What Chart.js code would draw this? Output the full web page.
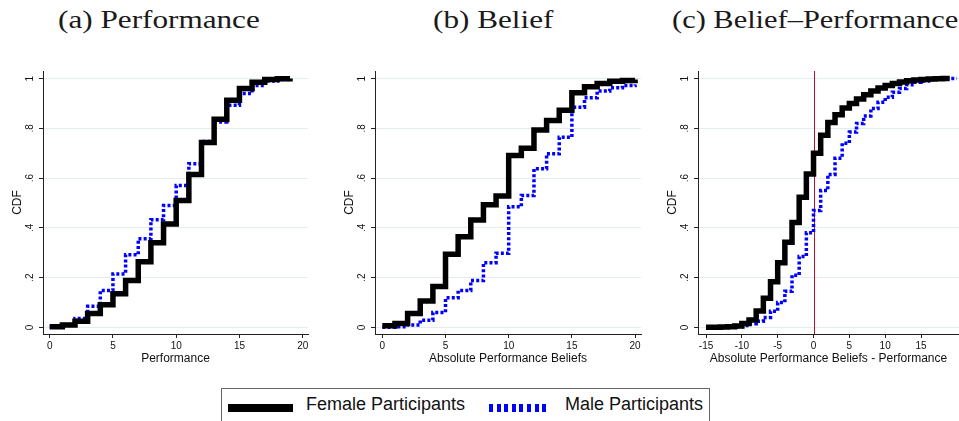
<!DOCTYPE html>
<html>
<head>
<meta charset="utf-8">
<script src="https://cdn.jsdelivr.net/npm/chart.js@4.4.1/dist/chart.umd.min.js"></script>
<style>
  html, body { margin:0; padding:0; background:#fff; }
  body { width:959px; height:421px; position:relative; overflow:hidden; }
  .panel { position:absolute; top:60px; }
  .ttl { position:absolute; top:7px; font-family:"Liberation Serif", "Times New Roman", serif; font-size:26px; line-height:26px; color:#1a1a1a; white-space:nowrap; transform-origin:left top; transform:scaleX(1.2); }
  #legend { position:absolute; left:221px; top:388px; width:489px; height:40px; border:1px solid #666; box-sizing:border-box; }
  .sw { position:absolute; top:15px; height:8px; }
  .lt { position:absolute; top:6px; font-family:"Liberation Sans", Arial, sans-serif; font-size:18px; line-height:18px; color:#111; white-space:nowrap; }
</style>
</head>
<body>
<div class="ttl" style="left:58px">(a) Performance</div>
<div class="ttl" style="left:433px">(b) Belief</div>
<div class="ttl" style="left:672px; transform:scaleX(1.17)">(c) Belief–Performance</div>

<div class="panel" style="left:0px"><canvas id="c1" width="316" height="310"></canvas></div>
<div class="panel" style="left:332px"><canvas id="c2" width="316" height="310"></canvas></div>
<div class="panel" style="left:655px"><canvas id="c3" width="304" height="310"></canvas></div>

<div id="legend">
  <div class="sw" style="left:6px; width:65px; background:#000"></div>
  <div class="lt" style="left:84px">Female Participants</div>
  <div class="sw" style="left:267px; width:61px; background:repeating-linear-gradient(to right, #0000ff 0 4px, transparent 4px 7.6px)"></div>
  <div class="lt" style="left:343px">Male Participants</div>
</div>

<script>
// CDF values, one value per integer x
const perfX = [0,1,2,3,4,5,6,7,8,9,10,11,12,13,14,15,16,17,18,19];
const perfFemale = [0.003,0.01,0.025,0.056,0.091,0.135,0.188,0.264,0.34,0.416,0.51,0.615,0.743,0.837,0.913,0.96,0.985,0.996,0.999,1];
const perfMale = [0.002,0.012,0.036,0.085,0.148,0.215,0.292,0.356,0.433,0.49,0.57,0.658,0.747,0.826,0.893,0.94,0.972,0.99,0.996,1];

const beliefX = [0,1,2,3,4,5,6,7,8,9,10,11,12,13,14,15,16,17,18,19,20];
const beliefFemale = [0.007,0.016,0.056,0.106,0.164,0.294,0.364,0.432,0.493,0.528,0.691,0.72,0.793,0.832,0.873,0.943,0.967,0.98,0.989,0.992,0.996];
const beliefMale = [0.001,0.003,0.01,0.029,0.06,0.119,0.148,0.188,0.26,0.298,0.485,0.53,0.638,0.698,0.764,0.885,0.923,0.95,0.963,0.972,0.976];

const diffX = [-15,-14,-13,-12,-11,-10,-9,-8,-7,-6,-5,-4,-3,-2,-1,0,1,2,3,4,5,6,7,8,9,10,11,12,13,14,15,16,17,18,19];
const diffFemale = [0.001,0.001,0.002,0.003,0.006,0.016,0.03,0.066,0.117,0.183,0.26,0.342,0.422,0.523,0.617,0.70,0.772,0.824,0.855,0.882,0.90,0.918,0.935,0.95,0.962,0.972,0.98,0.986,0.991,0.994,0.996,0.998,0.999,1,1];
const diffMaleX = [-15,-14,-13,-12,-11,-10,-9,-8,-7,-6,-5,-4,-3,-2,-1,0,1,2,3,4,5,6,7,8,9,10,11,12,13,14,15,16,17,18,19,20];
const diffMale = [0,0,0,0.001,0.003,0.008,0.015,0.025,0.04,0.065,0.10,0.145,0.21,0.285,0.38,0.47,0.55,0.615,0.68,0.74,0.785,0.82,0.85,0.88,0.905,0.925,0.945,0.96,0.975,0.985,0.99,0.995,0.997,0.999,1,1];

const cdfTicks = [0, 0.2, 0.4, 0.6, 0.8, 1];
const cdfLabels = ['0', '.2', '.4', '.6', '.8', '1'];
const ticks0to20 = [0, 5, 10, 15, 20];
const ticksDiff = [-15, -10, -5, 0, 5, 10, 15];

const SANS = '"Liberation Sans", Arial, sans-serif';
const AX = '#222';

// vertical reference line at x = 0 (drawn under the data)
const zeroLine = {
    id: 'zeroLine',
    beforeDatasetsDraw(chart, args, opts) {
        if (!opts.show) return;
        const {ctx, chartArea, scales} = chart;
        const px = Math.round(scales.x.getPixelForValue(0)) + 0.5;
        ctx.save();
        ctx.strokeStyle = '#b3122e'; ctx.lineWidth = 1;
        ctx.beginPath(); ctx.moveTo(px, chartArea.top); ctx.lineTo(px, chartArea.bottom); ctx.stroke();
        ctx.restore();
    }
};

function pts(xs, ys) { return ys.map((v, i) => ({x: xs[i], y: v})); }

function panel(id, fx, fy, mx, my, xmin, xmax, xticks, xtitle, rightPad, showZero) {
    new Chart(document.getElementById(id), {
        type: 'line',
        data: {
            datasets: [
                { label: 'Female Participants', data: pts(fx, fy), borderColor: '#000', borderWidth: 5.5,
                  stepped: true, pointRadius: 0, fill: false, borderJoinStyle: 'miter' },
                { label: 'Male Participants', data: pts(mx, my), borderColor: '#0000ff', borderWidth: 3.5,
                  borderDash: [3, 2.2], stepped: true, pointRadius: 0, fill: false, borderJoinStyle: 'miter' }
            ]
        },
        options: {
            responsive: false, animation: false, events: [],
            layout: { padding: { top: 8, right: rightPad, left: 0, bottom: 0 } },
            plugins: { legend: { display: false }, tooltip: { enabled: false }, zeroLine: { show: showZero } },
            scales: {
                x: {
                    type: 'linear', min: xmin, max: xmax,
                    afterBuildTicks: s => { s.ticks = xticks.map(v => ({value: v})); },
                    afterFit: s => { s.height = 36; },
                    ticks: { font: { family: SANS, size: 10 }, color: '#111', padding: 2, maxRotation: 0, autoSkip: false },
                    grid: { drawOnChartArea: false, tickLength: 4, tickColor: AX, tickWidth: 1 },
                    border: { color: AX, width: 1 },
                    title: { display: true, text: xtitle, color: '#111', font: { family: SANS, size: 12 }, padding: { top: 0, bottom: 4 } }
                },
                y: {
                    min: -0.0266, max: 1.0306,
                    afterBuildTicks: s => { s.ticks = cdfTicks.map(v => ({value: v})); },
                    afterFit: s => { s.width = 43; },
                    ticks: { font: { family: SANS, size: 10 }, color: '#111', padding: 5, minRotation: 90, maxRotation: 90,
                             crossAlign: 'center', callback: (v) => cdfLabels[cdfTicks.indexOf(v)] },
                    grid: { color: '#e3ecee', lineWidth: 1, tickLength: 4, tickColor: AX, tickWidth: 1 },
                    border: { color: AX, width: 1 },
                    title: { display: true, text: 'CDF', color: '#111', font: { family: SANS, size: 12 }, padding: { top: 10, bottom: 0 } }
                }
            }
        },
        plugins: [zeroLine]
    });
}

panel('c1', perfX, perfFemale, perfX, perfMale, -0.53, 20.42, ticks0to20, 'Performance', 8, false);
panel('c2', beliefX, beliefFemale, beliefX, beliefMale, -0.58, 20.47, ticks0to20, 'Absolute Performance Beliefs', 7, false);
panel('c3', diffX, diffFemale, diffMaleX, diffMale, -16.12, 20.3, ticksDiff, 'Absolute Performance Beliefs - Performance', 0, true);
</script>
</body>
</html>
